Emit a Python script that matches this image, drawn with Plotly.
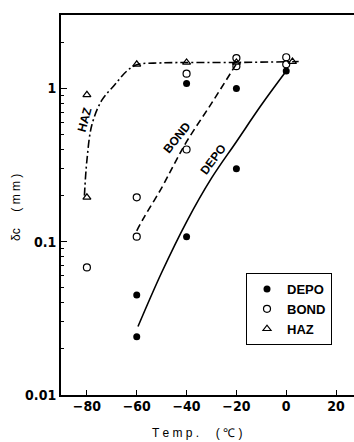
import plotly.graph_objects as go

# Measured points
depo_x = [-60, -60, -40, -40, -20, -20, 0]
depo_y = [0.024, 0.045, 0.108, 1.08, 0.30, 1.0, 1.3]
bond_x = [-80, -60, -60, -40, -40, -20, -20, 0, 0]
bond_y = [0.068, 0.108, 0.195, 0.40, 1.25, 1.40, 1.58, 1.44, 1.6]
haz_x = [-80, -80, -60, -40, -20, 2.5]
haz_y = [0.195, 0.91, 1.44, 1.48, 1.48, 1.5]

# Fitted curves
depo_cx = [-59.5, -50, -40, -30, -20, -10, 0]
depo_cy = [0.028, 0.063, 0.135, 0.26, 0.45, 0.78, 1.3]
bond_cx = [-60, -57, -50, -45, -40, -30, -20]
bond_cy = [0.118, 0.145, 0.225, 0.32, 0.45, 0.8, 1.45]
haz_cx = [-81, -80, -78, -74, -69, -64, -60, -50, -20, 5]
haz_cy = [0.2, 0.34, 0.58, 0.84, 1.05, 1.3, 1.43, 1.47, 1.48, 1.5]

x_ticks = [-80, -60, -40, -20, 0, 20]
y_ticks = [0.01, 0.1, 1]
y_ticktext = ["0.01", "0.1", "1"]

fig = go.Figure()
lw = 1.6
fig.add_trace(go.Scatter(x=depo_cx, y=depo_cy, mode="lines", line=dict(color="black", width=lw, shape="spline"), showlegend=False))
fig.add_trace(go.Scatter(x=bond_cx, y=bond_cy, mode="lines", line=dict(color="black", width=lw, dash="7px,4px", shape="spline"), showlegend=False))
fig.add_trace(go.Scatter(x=haz_cx, y=haz_cy, mode="lines", line=dict(color="black", width=lw, dash="8px,3px,2px,3px", shape="spline"), showlegend=False))

fig.add_trace(go.Scatter(x=depo_x, y=depo_y, mode="markers", name="DEPO",
                         marker=dict(symbol="circle", size=7, color="black")))
fig.add_trace(go.Scatter(x=bond_x, y=bond_y, mode="markers", name="BOND",
                         marker=dict(symbol="circle-open", size=7, color="black", line=dict(width=1.2))))
fig.add_trace(go.Scatter(x=haz_x, y=haz_y, mode="markers", name="HAZ",
                         marker=dict(symbol="triangle-up-open", size=7, color="black", line=dict(width=1.2))))

fam = "Liberation Sans Narrow, DejaVu Sans Condensed, Liberation Sans, Arial"
lab_font = dict(family="Liberation Sans, Arial", size=12, color="black", weight="bold")
fig.add_annotation(x=-80.8, y=-0.2, xref="x", yref="y", text="HAZ", showarrow=False, textangle=-75, font=lab_font)
fig.add_annotation(x=-44, y=-0.32, xref="x", yref="y", text="BOND", showarrow=False, textangle=-51, font=lab_font)
fig.add_annotation(x=-29.2, y=-0.46, xref="x", yref="y", text="DEPO", showarrow=False, textangle=-53, font=lab_font)

title_font = dict(family="Liberation Sans, Arial", size=12, color="black")
fig.add_annotation(x=(197 - 61) / 293, y=-(433 - 395) / 380, xref="paper", yref="paper",
                   text="T e m p .     ( ℃ )", showarrow=False, font=title_font, xanchor="center", yanchor="middle")
fig.add_annotation(x=-(61 - 16) / 293, y=(395 - 208) / 380, xref="paper", yref="paper",
                   text="δc     ( m m )", showarrow=False, font=title_font, textangle=-90, xanchor="center", yanchor="middle")

tick_font = dict(family=fam, size=14, color="black", weight="bold")
fig.update_xaxes(range=[-90.4, 27.2], tickvals=x_ticks,
                 ticks="inside", ticklen=5, tickwidth=1.2, tickcolor="black",
                 showline=True, linecolor="black", linewidth=2, mirror=True,
                 showgrid=False, zeroline=False, tickfont=tick_font, automargin=False,
                 ticklabelstandoff=-3)
fig.update_yaxes(type="log", range=[-2, 0.48], tickvals=y_ticks, ticktext=y_ticktext,
                 ticks="inside", ticklen=6, tickwidth=1.2, tickcolor="black",
                 minor=dict(ticks="inside", ticklen=3, tickcolor="black", dtick="D1", showgrid=False),
                 showline=True, linecolor="black", linewidth=2,
                 showgrid=False, zeroline=False, tickfont=tick_font, automargin=False)

fig.update_layout(width=354, height=442, margin=dict(l=61, r=0, t=15, b=47),
                  plot_bgcolor="white", paper_bgcolor="white",
                  legend=dict(x=(246 - 61) / 293, y=(395 - 273) / 380, xanchor="left", yanchor="top",
                              bordercolor="black", borderwidth=1, bgcolor="white",
                              font=dict(family="Liberation Sans, Arial", size=13, color="black", weight="bold"),
                              itemwidth=30, tracegroupgap=0))

fig.write_html("out.html", config={"displayModeBar": False},
               post_script="document.body.style.margin='0';document.body.style.overflow='hidden';")
